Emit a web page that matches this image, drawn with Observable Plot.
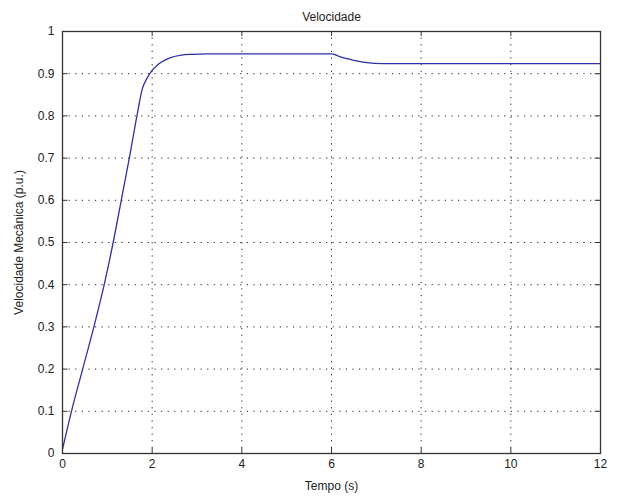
<!DOCTYPE html>
<html>
<head>
<meta charset="utf-8">
<script src="https://cdn.jsdelivr.net/npm/d3@7"></script>
<script src="https://cdn.jsdelivr.net/npm/@observablehq/plot@0.6"></script>
<style>
  html, body { margin: 0; padding: 0; background: white; }
</style>
</head>
<body>
<div id="chart"></div>
<script>
const time  = [0, 0.2, 0.45, 0.7, 0.93, 1.13, 1.31, 1.49, 1.66, 1.78, 1.9, 2.0, 2.1, 2.2, 2.41, 2.65, 2.9, 3.2, 6.0, 6.1, 6.2, 6.45, 6.74, 7.16, 12];
const speed = [0.01, 0.1, 0.2, 0.3, 0.4, 0.5, 0.6, 0.7, 0.8, 0.864, 0.892, 0.908, 0.919, 0.927, 0.938, 0.944, 0.946, 0.947, 0.947, 0.944, 0.940, 0.933, 0.927, 0.924, 0.924];
const xTicks = [0, 2, 4, 6, 8, 10, 12];
const yTicks = [0, 0.1, 0.2, 0.3, 0.4, 0.5, 0.6, 0.7, 0.8, 0.9, 1];
const yTickLabels = ["0", "0.1", "0.2", "0.3", "0.4", "0.5", "0.6", "0.7", "0.8", "0.9", "1"];
const titleText = "Velocidade";
const xLabel = "Tempo (s)";
const yLabel = "Velocidade Mecânica (p.u.)";

const data = time.map((t, i) => ({t, v: speed[i]}));
const dash = "1.2,5.4";
const gridColor = "#222";

const chart = Plot.plot({
  width: 617,
  height: 497,
  marginLeft: 62,
  marginRight: 17,
  marginTop: 31,
  marginBottom: 44,
  x: {domain: [0, 12]},
  y: {domain: [0, 1]},
  style: {fontFamily: "'Liberation Sans', Arial, Helvetica, sans-serif", fontSize: "12px", background: "white", color: "#222"},
  marks: [
    Plot.ruleX(xTicks, {x: d => d, stroke: gridColor, strokeDasharray: dash, strokeWidth: 1}),
    Plot.ruleY(yTicks, {y: d => d, stroke: gridColor, strokeDasharray: dash, strokeWidth: 1}),
    Plot.ruleX(xTicks, {x: d => d, y1: 0, y2: 0.012, stroke: "#333"}),
    Plot.ruleX(xTicks, {x: d => d, y1: 0.988, y2: 1, stroke: "#333"}),
    Plot.ruleY(yTicks, {y: d => d, x1: 0, x2: 0.12, stroke: "#333"}),
    Plot.ruleY(yTicks, {y: d => d, x1: 11.88, x2: 12, stroke: "#333"}),
    Plot.line(data, {x: "t", y: "v", stroke: "#2f2fa8", strokeWidth: 1.3, curve: "monotone-x"}),
    Plot.frame({stroke: "#333", strokeWidth: 1.3}),
    Plot.axisX(xTicks, {tickSize: 0, tickPadding: 6, fontSize: 12, label: xLabel, labelAnchor: "center", labelOffset: 36, labelArrow: "none"}),
    Plot.axisY(yTicks, {tickSize: 0, tickPadding: 8, fontSize: 12, tickFormat: (d, i) => yTickLabels[yTicks.indexOf(d)], label: yLabel, labelAnchor: "center", labelOffset: 48, labelArrow: "none"}),
    Plot.text([titleText], {text: d => d, frameAnchor: "top", dy: -19, fontSize: 12})
  ]
});
document.getElementById("chart").append(chart);
</script>
</body>
</html>
